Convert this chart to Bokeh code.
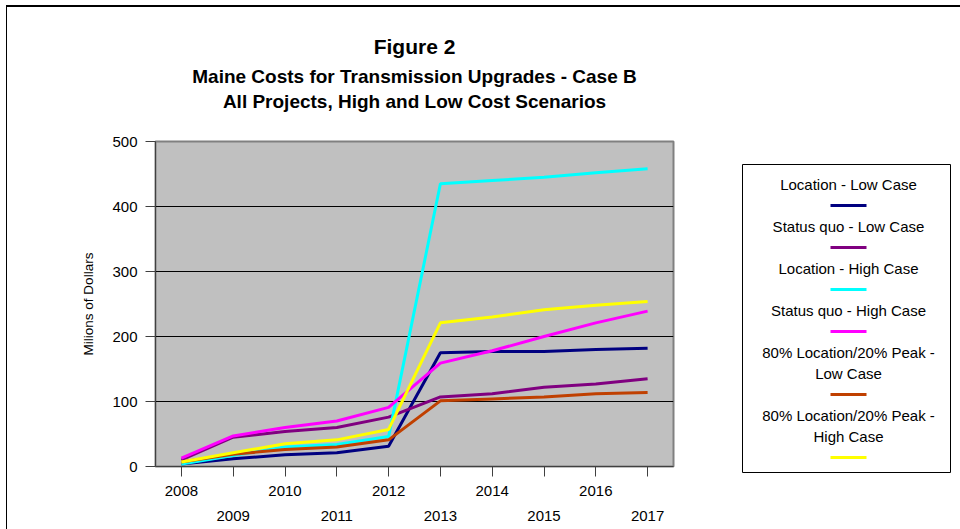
from bokeh.plotting import figure
from bokeh.models import Range1d, FixedTicker, LinearAxis, Title
from bokeh.layouts import row
from bokeh.core.properties import value
from bokeh.embed import file_html
from bokeh.resources import INLINE

# ---------------- data ----------------
years = [2008, 2009, 2010, 2011, 2012, 2013, 2014, 2015, 2016, 2017]
location_low = [4, 12, 18, 21, 31, 175, 177, 177, 180, 182]
status_quo_low = [10, 45, 54, 60, 76, 107, 112, 122, 127, 135]
location_high = [4, 17, 30, 34, 46, 435, 440, 445, 452, 458]
status_quo_high = [13, 47, 60, 70, 91, 159, 178, 200, 221, 239]
loc80_peak20_low = [7, 19, 26, 30, 41, 101, 104, 107, 112, 114]
loc80_peak20_high = [7, 21, 35, 41, 57, 221, 230, 241, 248, 254]

series_names = [
    "Location - Low Case",
    "Status quo - Low Case",
    "Location - High Case",
    "Status quo - High Case",
    "80% Location/20% Peak -\nLow Case",
    "80% Location/20% Peak -\nHigh Case",
]
series_values = [location_low, status_quo_low, location_high,
                 status_quo_high, loc80_peak20_low, loc80_peak20_high]
series_colors = ["#000080", "#800080", "#00FFFF", "#FF00FF", "#C04000", "#FFFF00"]
y_ticks = [0, 100, 200, 300, 400, 500]

title_lines = ["Figure 2",
               "Maine Costs for Transmission Upgrades - Case B",
               "All Projects, High and Low Cost Scenarios"]
y_label = "Milions of Dollars"

FONT = "Liberation Sans"

# ---------------- main chart ----------------
p = figure(width=723, height=530,
           x_range=Range1d(years[0] - 0.5, years[-1] + 0.5),
           y_range=Range1d(y_ticks[0], y_ticks[-1]),
           output_backend="svg", toolbar_location=None,
           min_border_left=148, min_border_right=57,
           min_border_top=134, min_border_bottom=71,
           background_fill_color="#C0C0C0", border_fill_color="white",
           x_axis_location=None, frame_align=False)

p.outline_line_color = "#808080"
p.outline_line_width = 2
p.xgrid.visible = False
p.ygrid.ticker = FixedTicker(ticks=y_ticks)
p.ygrid.grid_line_color = "black"
p.ygrid.grid_line_width = 1

yax = p.yaxis[0]
yax.ticker = FixedTicker(ticks=y_ticks)
yax.axis_label = y_label
yax.axis_label_text_font = FONT
yax.axis_label_text_font_style = "normal"
yax.axis_label_text_font_size = "13.5px"
yax.axis_label_text_color = "black"
yax.axis_label_standoff = 13
yax.major_label_text_font = FONT
yax.major_label_text_font_size = "15px"
yax.major_label_text_color = "black"
yax.major_label_standoff = 8
yax.major_tick_out = 10
yax.major_tick_in = 0
yax.minor_tick_out = 0
yax.minor_tick_in = 0
yax.axis_line_color = "#404040"
yax.major_tick_line_color = "#404040"

odd_years = years[1::2]

xax1 = LinearAxis(ticker=FixedTicker(ticks=years),
                  major_label_overrides={float(y): "" for y in odd_years})
xax2 = LinearAxis(ticker=FixedTicker(ticks=odd_years))
for ax in (xax1, xax2):
    ax.major_label_text_font = FONT
    ax.major_label_text_font_size = "15px"
    ax.major_label_text_color = "black"
    ax.minor_tick_out = 0
    ax.minor_tick_in = 0
    ax.major_tick_in = 0
xax1.major_tick_out = 10
xax1.major_label_standoff = 9
xax1.axis_line_color = "#404040"
xax1.major_tick_line_color = "#404040"
xax2.major_tick_out = 0
xax2.major_label_standoff = 12
xax2.axis_line_color = None
xax2.major_tick_line_color = None
p.add_layout(xax1, "below")
p.add_layout(xax2, "below")

for vals, col in zip(series_values, series_colors):
    p.line(years, vals, line_color=col, line_width=3)

# titles (first added = nearest to frame); a tiny spacer keeps them off the frame
p.add_layout(Title(text=" ", text_font_size="1px", standoff=27), "above")
p.add_layout(Title(text=title_lines[2], align="center", text_font=FONT,
                   text_font_size="19px", text_font_style="bold",
                   text_color="black", standoff=0), "above")
p.add_layout(Title(text=title_lines[1], align="center", text_font=FONT,
                   text_font_size="19px", text_font_style="bold",
                   text_color="black", standoff=3), "above")
p.add_layout(Title(text=title_lines[0], align="center", text_font=FONT,
                   text_font_size="21px", text_font_style="bold",
                   text_color="black", standoff=10), "above")

# ---------------- legend panel ----------------
X0, X1, Y0, Y1 = 730, 960, 7, 537
leg = figure(width=X1 - X0, height=Y1 - Y0,
             x_range=Range1d(X0, X1), y_range=Range1d(Y1, Y0),
             output_backend="svg", toolbar_location=None,
             min_border=0, x_axis_location=None, y_axis_location=None,
             border_fill_color="white", background_fill_color="white",
             frame_align=False)
leg.grid.visible = False
leg.outline_line_color = None

box_l, box_r, box_t, box_b = 742, 950, 164, 472
leg.quad(left=[box_l], right=[box_r], top=[box_t], bottom=[box_b],
         fill_color=None, line_color="black", line_width=1)

cx = (box_l + box_r) / 2 + 2
step = 21
ycur = 184
tx, ty, tt = [], [], []
sx0, sx1, sy, sc = [], [], [], []
for name, col in zip(series_names, series_colors):
    for ln in name.split("\n"):
        tx.append(cx)
        ty.append(ycur)
        tt.append(ln)
        ycur += step
    sx0.append(cx - 18)
    sx1.append(cx + 18)
    sy.append(ycur)
    sc.append(col)
    ycur += step

leg.text(x=tx, y=ty, text=tt, text_font=value(FONT), text_font_size="15px",
         text_align="center", text_baseline="middle", text_color="black")
leg.segment(x0=sx0, y0=sy, x1=sx1, y1=sy, line_color=sc, line_width=3)

layout = row(p, leg, styles={"border-top": "2px solid black",
                             "border-left": "1px solid black",
                             "margin-left": "6px", "margin-top": "5px"})

open("out.html", "w").write(file_html(layout, INLINE))
